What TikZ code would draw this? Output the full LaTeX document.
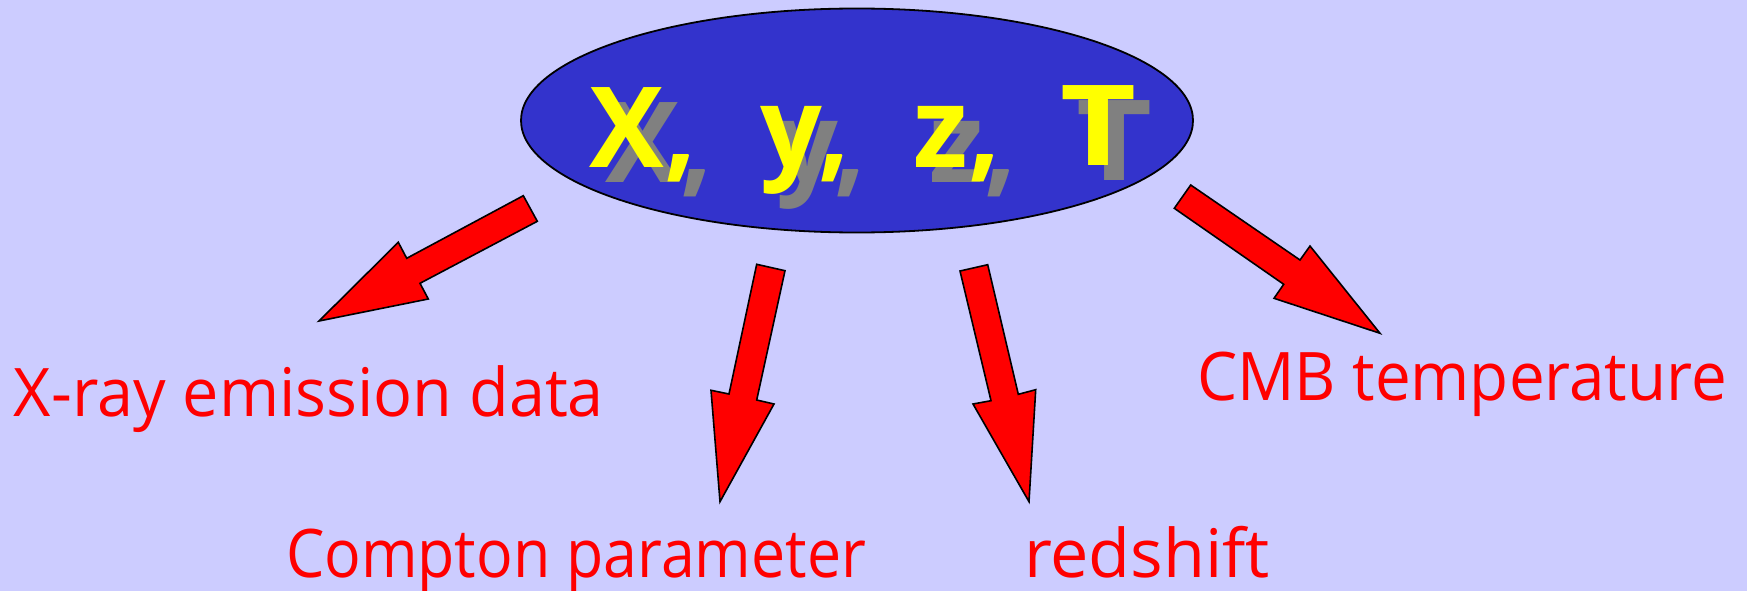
\documentclass[tikz,border=0pt]{standalone}
\usepackage{fontspec}
\usepackage{graphicx}
\setmainfont{Open Sans}
\usetikzlibrary{shapes.geometric}
\definecolor{bgcol}{HTML}{CCCCFF}
\definecolor{ellcol}{HTML}{3333CC}
\definecolor{yel}{HTML}{FFFF00}
\definecolor{shad}{HTML}{808080}
\definecolor{lab}{HTML}{FF0000}
\newsavebox\fitbox
\newcommand\fitto[2]{\sbox\fitbox{#2}\pgfmathsetmacro\fitfac{#1/\wd\fitbox}\scalebox{\fitfac}[1]{\usebox\fitbox}}
\tikzset{
  blockarrow/.style={draw=black, line width=1.6pt, line join=miter, fill=red},
  labeltext/.style={text=lab, inner sep=0pt, anchor=base, font=\fontsize{67}{80}\selectfont},
  vartext/.style={text=yel, inner sep=0pt, anchor=base, font=\fontsize{112}{130}\selectfont\bfseries},
  varshadow/.style={vartext, text=shad},
}
\begin{document}
\begin{tikzpicture}[x=1pt,y=-1pt]
\fill[bgcol] (0,0) rectangle (1747,591);
\useasboundingbox (0,0) rectangle (1747,591);
\node[ellipse, draw=black, line width=1.8pt, fill=ellcol, minimum width=672pt, minimum height=224pt, inner sep=0pt] (ell) at (857,120.5) {};
% shadows
\node[varshadow] (sx) at (659,182) {\fitto{107}{X,}};
\node[varshadow] (sy) at (821,182) {\fitto{89}{y,}};
\node[varshadow] (sz) at (973,182) {\fitto{87}{z,}};
\node[varshadow] (sT) at (1114,180) {\fitto{76}{T}};
% yellow variables
\node[vartext] (vx) at (643,167) {\fitto{107}{X,}};
\node[vartext] (vy) at (805,167) {\fitto{89}{y,}};
\node[vartext] (vz) at (957,167) {\fitto{87}{z,}};
\node[vartext] (vT) at (1098,165) {\fitto{76}{T}};
% arrows
\draw[blockarrow] (523.3,195.7) -- (537.3,221.3) -- (420,283.3) -- (428.3,299) -- (319,321) -- (398.3,242.3) -- (406.7,258.3) -- cycle;
\draw[blockarrow] (756.7,264.3) -- (785,270.7) -- (756.7,400) -- (774,404) -- (720,501.7) -- (711,390.3) -- (729,394) -- cycle;
\draw[blockarrow] (960,271) -- (987.7,264.7) -- (1018.3,394.3) -- (1035.7,389.7) -- (1029,501.7) -- (973,404) -- (991,400.7) -- cycle;
\draw[blockarrow] (1174.3,208.3) -- (1190.7,185) -- (1300,260) -- (1310,246) -- (1380,333.3) -- (1274,298.3) -- (1283.7,284.3) -- cycle;
% labels
\node[labeltext] (xray) at (309,416) {\fitto{590}{X-ray emission data}};
\node[labeltext] (compton) at (576,577) {\fitto{580}{Compton parameter}};
\node[labeltext] (redshift) at (1147,577) {\fitto{246}{redshift}};
\node[labeltext] (cmb) at (1462,400) {\fitto{530}{CMB temperature}};
\end{tikzpicture}
\end{document}
